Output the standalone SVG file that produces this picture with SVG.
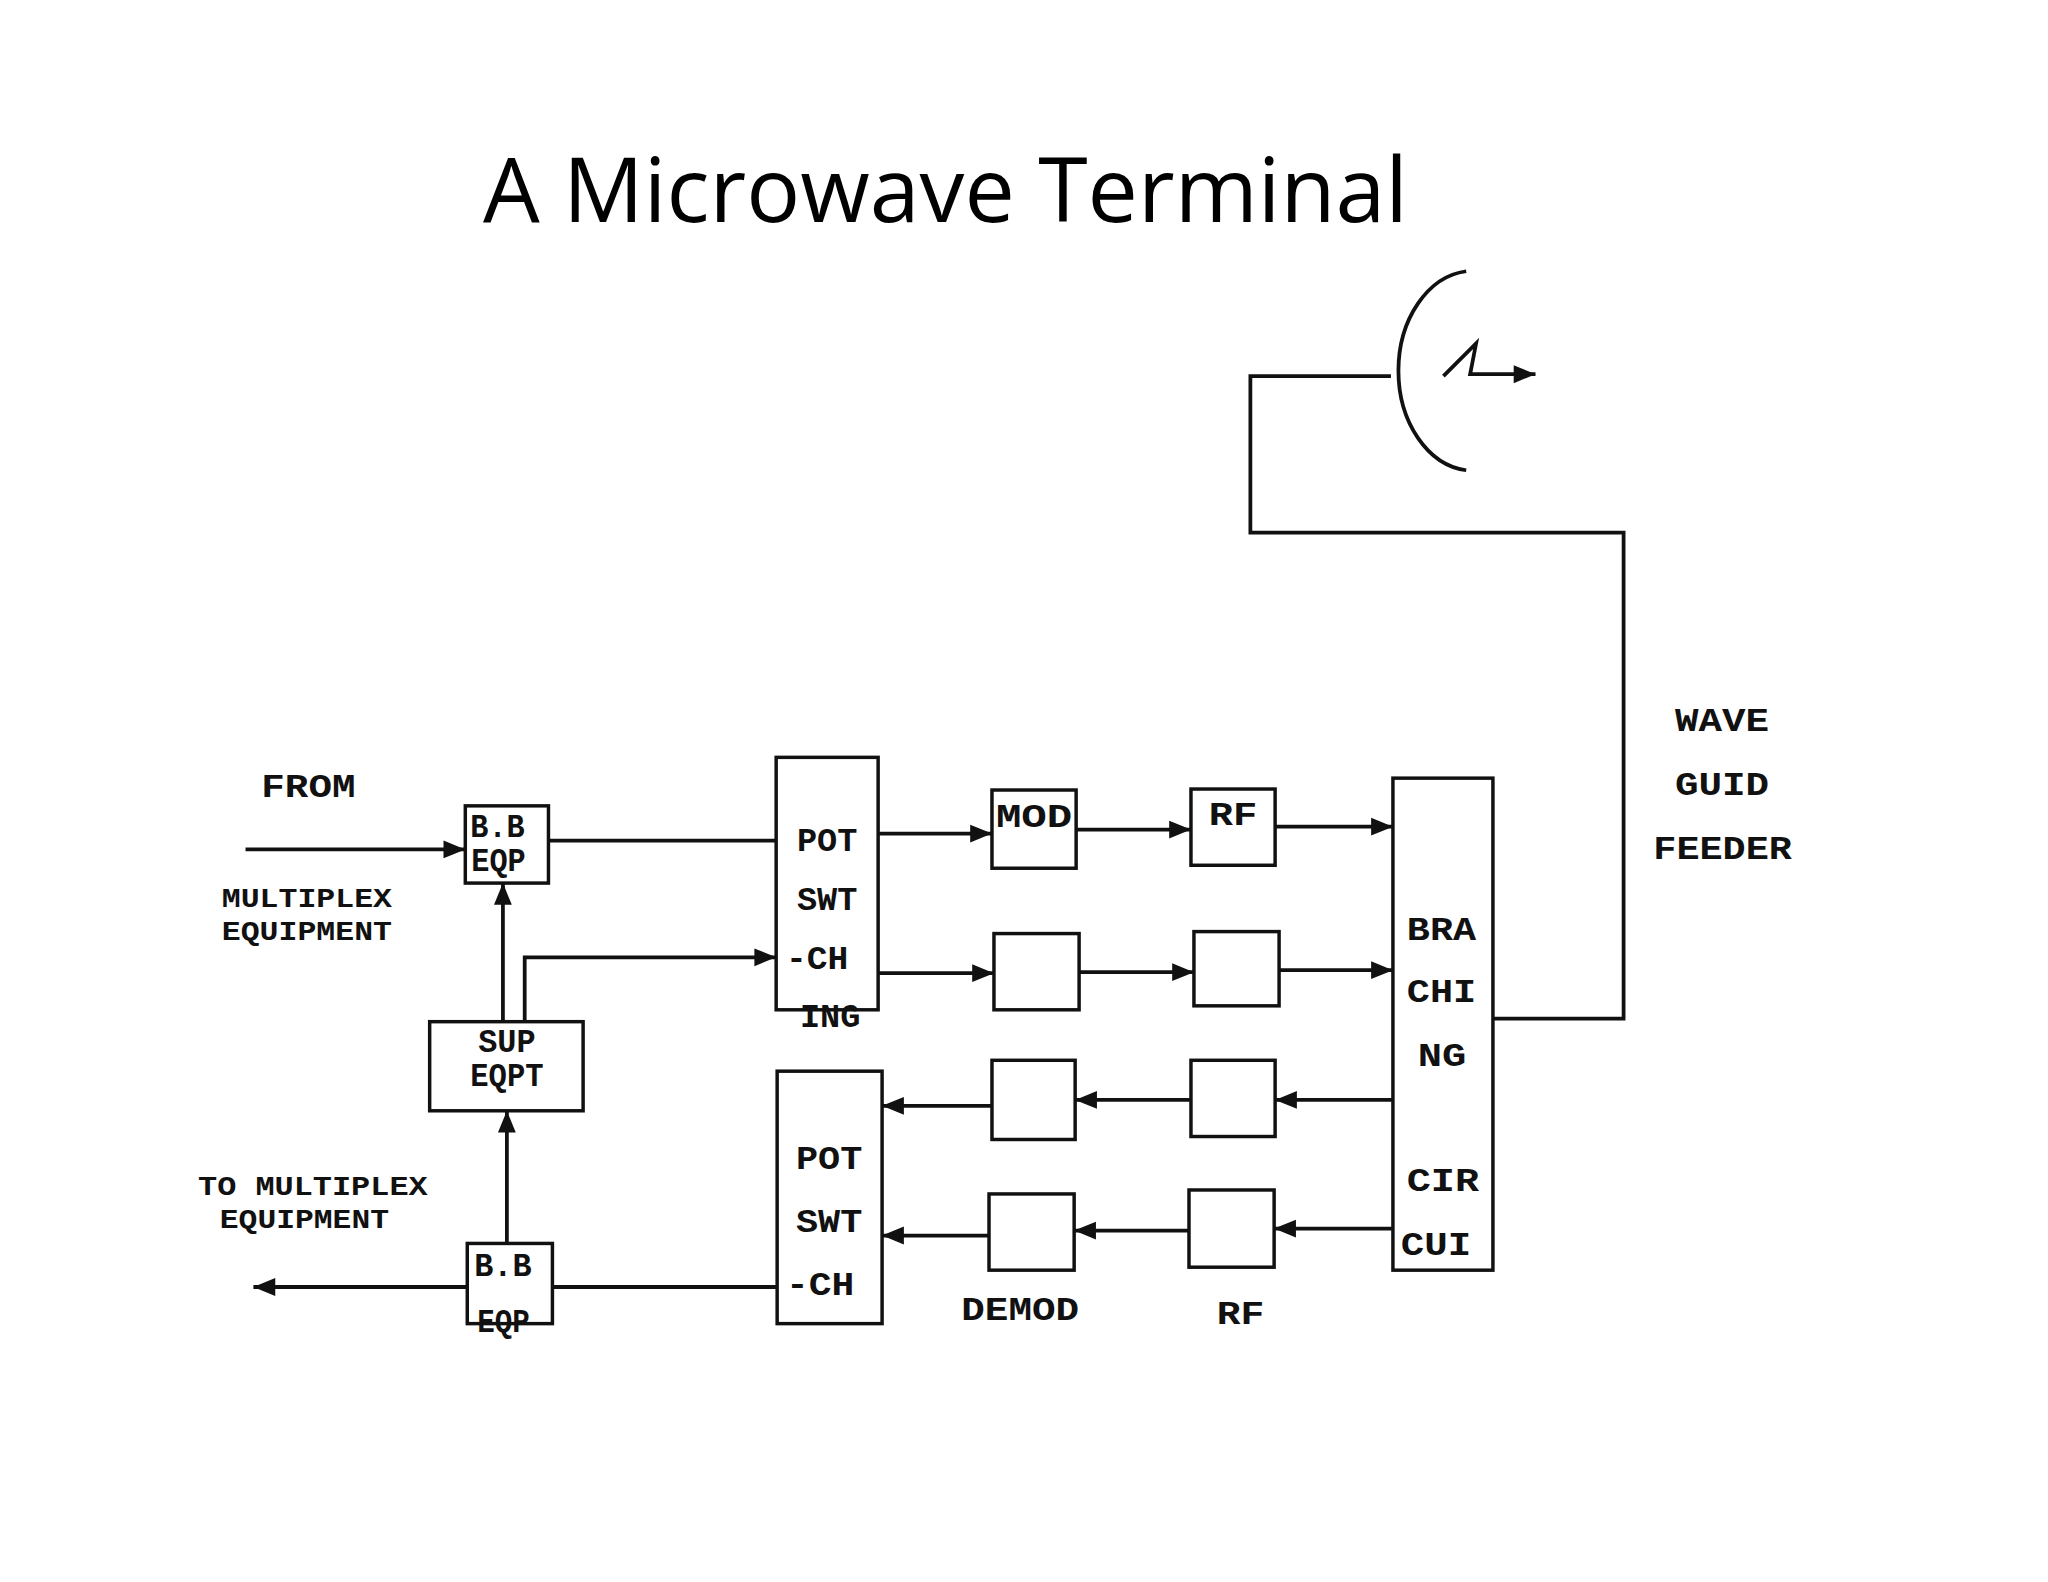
<svg xmlns="http://www.w3.org/2000/svg" xmlns:xlink="http://www.w3.org/1999/xlink" width="2048" height="1582" viewBox="0 0 2048 1582">
<style>
.b{fill:#fff;stroke:#111;stroke-width:3.5}
.l{fill:none;stroke:#111;stroke-width:3.8}
.t{font-family:"Liberation Mono",monospace;font-weight:bold;font-size:33px;fill:#111;dominant-baseline:central}
.s{font-size:27px}
.title{font-family:"Open Sans","Liberation Sans",sans-serif;font-size:90px;fill:#000}
</style>
<defs>
<path id="ah" d="M0,0L-22,-9L-22,9z" fill="#111"/>
</defs>
<rect width="2048" height="1582" fill="#fff"/>
<text class="title" x="483" y="222" textLength="925" lengthAdjust="spacingAndGlyphs">A Microwave Terminal</text>
<g transform="scale(0.99)">
<g id="connectors">
<path class="l" d="M248,858H470"/><use href="#ah" transform="translate(470,858)"/>
<path class="l" d="M554,849H784"/>
<path class="l" d="M508,1032V892"/><use href="#ah" transform="translate(508,892) rotate(-90)"/>
<path class="l" d="M530,1032V967H784"/><use href="#ah" transform="translate(784,967)"/>
<path class="l" d="M512,1256V1122"/><use href="#ah" transform="translate(512,1122) rotate(-90)"/>
<path class="l" d="M785,1300H558"/>
<path class="l" d="M472,1300H256"/><use href="#ah" transform="translate(256,1300) rotate(180)"/>
<path class="l" d="M887,842H1002"/><use href="#ah" transform="translate(1002,842)"/>
<path class="l" d="M1087,838H1203"/><use href="#ah" transform="translate(1203,838)"/>
<path class="l" d="M1288,835H1407"/><use href="#ah" transform="translate(1407,835)"/>
<path class="l" d="M887,983H1004"/><use href="#ah" transform="translate(1004,983)"/>
<path class="l" d="M1090,982H1206"/><use href="#ah" transform="translate(1206,982)"/>
<path class="l" d="M1292,980H1407"/><use href="#ah" transform="translate(1407,980)"/>
<path class="l" d="M1407,1111H1288"/><use href="#ah" transform="translate(1288,1111) rotate(180)"/>
<path class="l" d="M1203,1111H1086"/><use href="#ah" transform="translate(1086,1111) rotate(180)"/>
<path class="l" d="M1002,1117H891"/><use href="#ah" transform="translate(891,1117) rotate(180)"/>
<path class="l" d="M1407,1241H1287"/><use href="#ah" transform="translate(1287,1241) rotate(180)"/>
<path class="l" d="M1201,1243H1085"/><use href="#ah" transform="translate(1085,1243) rotate(180)"/>
<path class="l" d="M999,1248H891"/><use href="#ah" transform="translate(891,1248) rotate(180)"/>
<path class="l" d="M1508,1029H1640V538H1263V380H1405"/>
<path class="l" d="M1481,274A76,101 0 0 0 1481,475"/>
<path class="l" d="M1458,380L1491,347L1485,378H1551"/><use href="#ah" transform="translate(1551,378)"/>
</g>
<g id="bb_top"><rect class="b" x="470" y="814" width="84" height="78"/><text class="t" x="475" y="837" textLength="55" lengthAdjust="spacingAndGlyphs">B.B</text><text class="t" x="476" y="871" textLength="55" lengthAdjust="spacingAndGlyphs">EQP</text></g>
<g id="sup"><rect class="b" x="434" y="1032" width="155" height="90"/><text class="t" x="483" y="1054" textLength="58" lengthAdjust="spacingAndGlyphs">SUP</text><text class="t" x="475" y="1088" textLength="74" lengthAdjust="spacingAndGlyphs">EQPT</text></g>
<g id="bb_bot"><rect class="b" x="472" y="1256" width="86" height="81"/><text class="t" x="479" y="1280" textLength="58" lengthAdjust="spacingAndGlyphs">B.B</text><text class="t" x="482" y="1337" textLength="53" lengthAdjust="spacingAndGlyphs">EQP</text></g>
<g id="pot_up"><rect class="b" x="784" y="765" width="103" height="255"/><text class="t" x="805" y="851" textLength="61" lengthAdjust="spacingAndGlyphs">POT</text><text class="t" x="805" y="911" textLength="61" lengthAdjust="spacingAndGlyphs">SWT</text><text class="t" x="794" y="970" textLength="63" lengthAdjust="spacingAndGlyphs">-CH</text><text class="t" x="808" y="1029" textLength="61" lengthAdjust="spacingAndGlyphs">ING</text></g>
<g id="pot_low"><rect class="b" x="785" y="1082" width="106" height="255"/><text class="t" x="804" y="1172" textLength="67" lengthAdjust="spacingAndGlyphs">POT</text><text class="t" x="804" y="1236" textLength="67" lengthAdjust="spacingAndGlyphs">SWT</text><text class="t" x="794" y="1300" textLength="69" lengthAdjust="spacingAndGlyphs">-CH</text></g>
<g id="mod"><rect class="b" x="1002" y="798" width="85" height="79"/><text class="t" x="1006" y="827" textLength="77" lengthAdjust="spacingAndGlyphs">MOD</text></g>
<g id="rf1"><rect class="b" x="1203" y="797" width="85" height="77"/><text class="t" x="1221" y="825" textLength="49" lengthAdjust="spacingAndGlyphs">RF</text></g>
<g id="b2a"><rect class="b" x="1004" y="943" width="86" height="77"/></g>
<g id="b2b"><rect class="b" x="1206" y="941" width="86" height="75"/></g>
<g id="b3a"><rect class="b" x="1002" y="1071" width="84" height="80"/></g>
<g id="b3b"><rect class="b" x="1203" y="1071" width="85" height="77"/></g>
<g id="b4a"><rect class="b" x="999" y="1206" width="86" height="77"/></g>
<g id="b4b"><rect class="b" x="1201" y="1202" width="86" height="78"/></g>
<g id="branching"><rect class="b" x="1407" y="786" width="101" height="497"/><text class="t" x="1421" y="941" textLength="70" lengthAdjust="spacingAndGlyphs">BRA</text><text class="t" x="1421" y="1004" textLength="70" lengthAdjust="spacingAndGlyphs">CHI</text><text class="t" x="1432" y="1068" textLength="49" lengthAdjust="spacingAndGlyphs">NG</text><text class="t" x="1421" y="1194" textLength="73" lengthAdjust="spacingAndGlyphs">CIR</text><text class="t" x="1415" y="1259" textLength="71" lengthAdjust="spacingAndGlyphs">CUI</text></g>
<g id="labels">
<text class="t" x="264" y="796" textLength="95" lengthAdjust="spacingAndGlyphs">FROM</text>
<text class="t s" x="224" y="909" textLength="172" lengthAdjust="spacingAndGlyphs">MULTIPLEX</text>
<text class="t s" x="224" y="942" textLength="172" lengthAdjust="spacingAndGlyphs">EQUIPMENT</text>
<text class="t s" x="200" y="1200" textLength="232" lengthAdjust="spacingAndGlyphs">TO MULTIPLEX</text>
<text class="t s" x="222" y="1233" textLength="171" lengthAdjust="spacingAndGlyphs">EQUIPMENT</text>
<text class="t" x="971" y="1325" textLength="119" lengthAdjust="spacingAndGlyphs">DEMOD</text>
<text class="t" x="1229" y="1329" textLength="48" lengthAdjust="spacingAndGlyphs">RF</text>
<text class="t" x="1692" y="730" textLength="95" lengthAdjust="spacingAndGlyphs">WAVE</text>
<text class="t" x="1692" y="794" textLength="95" lengthAdjust="spacingAndGlyphs">GUID</text>
<text class="t" x="1670" y="859" textLength="140" lengthAdjust="spacingAndGlyphs">FEEDER</text>
</g>
</g>
</svg>
